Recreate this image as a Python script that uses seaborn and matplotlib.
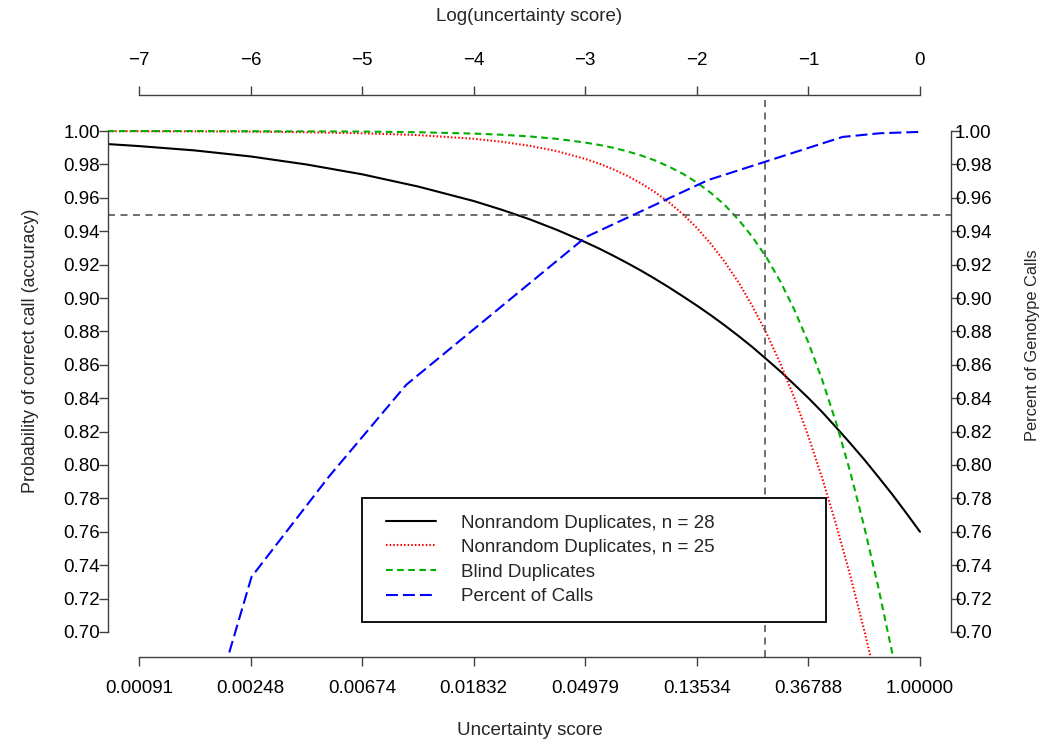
import numpy as np
import pandas as pd
import matplotlib
matplotlib.use("Agg")
import matplotlib.pyplot as plt
import seaborn as sns
from matplotlib.patches import Rectangle

# ---------------- data ----------------
log_score = [-7.278, -7.0, -6.5, -6.0, -5.5, -5.0, -4.5, -4.0, -3.75, -3.5, -3.25, -3.0,
             -2.875, -2.75, -2.625, -2.5, -2.375, -2.25, -2.125, -2.0, -1.875, -1.75,
             -1.625, -1.5, -1.375, -1.25, -1.125, -1.0, -0.875, -0.75, -0.625, -0.5,
             -0.375, -0.25, -0.125, 0.0]
acc_nonrandom_28 = [0.9922, 0.9910, 0.9884, 0.9848, 0.9800, 0.9741, 0.9668, 0.9581, 0.9529,
                    0.9472, 0.9407, 0.9335, 0.9296, 0.9254, 0.9210, 0.9164, 0.9115, 0.9064,
                    0.9010, 0.8955, 0.8897, 0.8836, 0.8772, 0.8705, 0.8633, 0.8560, 0.8481,
                    0.8401, 0.8316, 0.8224, 0.8130, 0.8033, 0.7930, 0.7825, 0.7714, 0.7600]
acc_nonrandom_25 = [0.9999, 0.9999, 0.9998, 0.9997, 0.9993, 0.9987, 0.9976, 0.9954, 0.9936,
                    0.9912, 0.9879, 0.9833, 0.9805, 0.9771, 0.9732, 0.9687, 0.9634, 0.9573,
                    0.9502, 0.9420, 0.9325, 0.9216, 0.9092, 0.8949, 0.8788, 0.8605, 0.8400,
                    0.8171, 0.7918, 0.7640, 0.7337, 0.7010, 0.6662, 0.6294, 0.5910, 0.5516]
acc_blind = [1.0000, 1.0000, 1.0000, 0.9999, 0.9998, 0.9997, 0.9993, 0.9985, 0.9978, 0.9968,
             0.9953, 0.9931, 0.9917, 0.9900, 0.9879, 0.9854, 0.9824, 0.9787, 0.9744, 0.9692,
             0.9630, 0.9557, 0.9468, 0.9364, 0.9242, 0.9097, 0.8928, 0.8733, 0.8507, 0.8249,
             0.7958, 0.7631, 0.7272, 0.6878, 0.6457, 0.6011]

calls_score = [0.001, 0.0025, 0.005, 0.01, 0.05, 0.15, 0.5, 0.7, 1.0]
pct_calls = [0.525, 0.733, 0.793, 0.848, 0.9365, 0.9707, 0.9965, 0.9987, 0.9995]

accuracy_threshold = 0.95
score_cutoff = 0.25

log_ticks = [-7, -6, -5, -4, -3, -2, -1, 0]
top_tick_labels = ["\u22127", "\u22126", "\u22125", "\u22124", "\u22123", "\u22122", "\u22121", "0"]
bottom_tick_labels = ["0.00091", "0.00248", "0.00674", "0.01832", "0.04979", "0.13534",
                      "0.36788", "1.00000"]
y_ticks = [0.70, 0.72, 0.74, 0.76, 0.78, 0.80, 0.82, 0.84, 0.86, 0.88, 0.90, 0.92, 0.94,
           0.96, 0.98, 1.00]

series_labels = ["Nonrandom Duplicates, n = 28", "Nonrandom Duplicates, n = 25",
                 "Blind Duplicates", "Percent of Calls"]

# ---------------- style ----------------
sns.set_style("ticks")
plt.rcParams["font.family"] = ["Liberation Sans", "DejaVu Sans"]
plt.rcParams["lines.scale_dashes"] = False
FS = 13.5
AXC = "#404040"

W, H = 1050, 749
L, R, B, T = 108, 951, 657, 95
fig = plt.figure(figsize=(W / 100, H / 100), dpi=100)
ax = fig.add_axes([L / W, 1 - B / H, (R - L) / W, (B - T) / H])
axr = ax.twinx()
axt = ax.twiny()

xlim = (-7.278, 0.278)
ylim = (0.685, 1.0216)

df = pd.DataFrame({"log_score": log_score, "n28": acc_nonrandom_28,
                   "n25": acc_nonrandom_25, "blind": acc_blind})
df_calls = pd.DataFrame({"log_score": np.log(calls_score), "pct": pct_calls})

sns.lineplot(data=df, x="log_score", y="n28", ax=ax, color="black", lw=1.5,
             linestyle="-", estimator=None)
sns.lineplot(data=df, x="log_score", y="n25", ax=ax, color="#ff0000", lw=1.5,
             linestyle=(0, (1.1, 1.5)), estimator=None)
sns.lineplot(data=df, x="log_score", y="blind", ax=ax, color="#00b000", lw=1.5,
             linestyle=(0, (4.8, 3.2)), estimator=None)
sns.lineplot(data=df_calls, x="log_score", y="pct", ax=axr, color="#0000ff", lw=1.5,
             linestyle=(0, (8.6, 3.6)), estimator=None)
handles = [ax.lines[0], ax.lines[1], ax.lines[2], axr.lines[0]]

ax.axhline(accuracy_threshold, color="#555555", lw=1.2, linestyle=(0, (5, 4)))
ax.axvline(np.log(score_cutoff), color="#555555", lw=1.2, linestyle=(0, (5, 4)))

for a in (ax, axr, axt):
    a.set_xlim(*xlim)
    a.set_ylim(*ylim)
    for s in a.spines.values():
        s.set_visible(False)
        s.set_color(AXC)
        s.set_linewidth(1.0)

# left / bottom axes
ax.spines["left"].set_visible(True)
ax.spines["left"].set_bounds(0.70, 1.00)
ax.spines["bottom"].set_visible(True)
ax.spines["bottom"].set_bounds(-7, 0)
ax.set_xticks(log_ticks)
ax.set_xticklabels(bottom_tick_labels)
ax.set_yticks(y_ticks)
ax.set_yticklabels([f"{v:.2f}" for v in y_ticks])
ax.tick_params(axis="both", direction="out", length=6.5, width=1.0, color=AXC,
               labelcolor="black", labelsize=FS)
ax.tick_params(axis="y", pad=-0.8)
ax.tick_params(axis="x", pad=10)

# right axis
axr.spines["right"].set_visible(True)
axr.spines["right"].set_bounds(0.70, 1.00)
axr.set_yticks(y_ticks)
axr.set_yticklabels([f"{v:.2f}" for v in y_ticks])
axr.tick_params(axis="y", direction="out", length=6.5, width=1.0, color=AXC,
                labelcolor="black", labelsize=FS, pad=-3.6)

# top axis
axt.spines["top"].set_visible(True)
axt.spines["top"].set_bounds(-7, 0)
axt.set_xticks(log_ticks)
axt.set_xticklabels(top_tick_labels)
axt.tick_params(axis="x", direction="out", length=6.5, width=1.0, color=AXC,
                labelcolor="black", labelsize=FS, pad=12)

# axis titles
ax.set_xlabel("Uncertainty score", fontsize=FS)
ax.xaxis.set_label_coords(0.5, -0.130)
ax.xaxis.label.set_va("center")
ax.set_ylabel("Probability of correct call (accuracy)", fontsize=12.9)
ax.yaxis.set_label_coords(-0.0925, 0.5445)
ax.yaxis.label.set_va("center")
ax.yaxis.label.set_ha("center")
axr.set_ylabel("Percent of Genotype Calls", fontsize=11.8)
axr.yaxis.set_label_coords(1.097, 0.555)
axr.yaxis.label.set_va("center")
axr.yaxis.label.set_ha("center")
axt.set_xlabel("Log(uncertainty score)", fontsize=FS)
axt.xaxis.set_label_coords(0.5, 1.139)
axt.xaxis.label.set_va("center")

# legend with an R-style box
frame = Rectangle((362 / W, 1 - 621.7 / H), 463.7 / W, 123.7 / H,
                  transform=fig.transFigure, facecolor="white", edgecolor="black",
                  lw=1.3, zorder=4)
fig.add_artist(frame)
fs_px = FS * 100 / 72
fig.legend(handles, series_labels, loc="upper left",
           bbox_to_anchor=(386 / W, 1 - 514.4 / H), bbox_transform=fig.transFigure,
           frameon=False, borderpad=0, borderaxespad=0, handlelength=50 / fs_px,
           handletextpad=25 / fs_px, labelspacing=0.395, fontsize=FS)

fig.savefig("out.png", dpi=100)
